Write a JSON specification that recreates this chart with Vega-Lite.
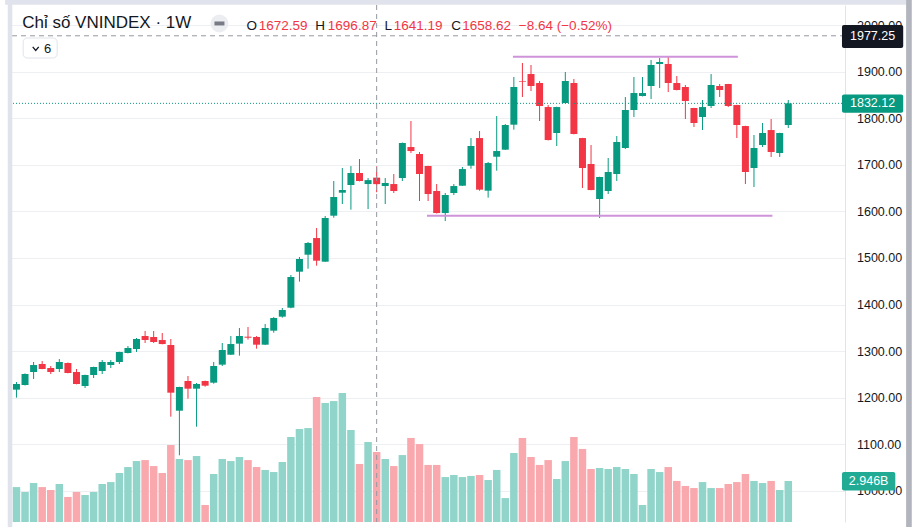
{
"$schema": "https://vega.github.io/schema/vega-lite/v6.json",
"width": 837,
"height": 517,
"autosize": {"type": "none"},
"padding": {"left": 8, "top": 5, "right": 72, "bottom": 5},
"background": "#ffffff",
"config": {"view": {"stroke": null}, "font": "Liberation Sans", "text": {"font": "Liberation Sans"}},
"datasets": {
"bars": [
{"i":0,"o":1217.1,"h":1233.5,"l":1199.9,"c":1229.2,"v":2.51},
{"i":1,"o":1227.1,"h":1252.0,"l":1226.0,"c":1250.7,"v":2.16},
{"i":2,"o":1255.0,"h":1276.5,"l":1240.0,"c":1270.0,"v":2.80},
{"i":3,"o":1272.2,"h":1278.6,"l":1261.0,"c":1261.5,"v":2.51},
{"i":4,"o":1263.6,"h":1267.9,"l":1250.7,"c":1255.0,"v":2.30},
{"i":5,"o":1261.5,"h":1282.9,"l":1255.0,"c":1276.5,"v":2.73},
{"i":6,"o":1274.3,"h":1275.5,"l":1252.2,"c":1252.9,"v":1.80},
{"i":7,"o":1255.0,"h":1261.5,"l":1228.5,"c":1229.2,"v":2.16},
{"i":8,"o":1224.9,"h":1249.3,"l":1220.6,"c":1248.6,"v":1.94},
{"i":9,"o":1248.6,"h":1266.5,"l":1242.1,"c":1265.8,"v":2.16},
{"i":10,"o":1257.2,"h":1280.8,"l":1250.7,"c":1276.5,"v":2.73},
{"i":11,"o":1270.0,"h":1280.8,"l":1263.6,"c":1276.5,"v":2.87},
{"i":12,"o":1276.5,"h":1298.5,"l":1272.2,"c":1298.0,"v":3.52},
{"i":13,"o":1295.8,"h":1310.9,"l":1295.0,"c":1306.6,"v":3.95},
{"i":14,"o":1304.4,"h":1328.0,"l":1298.0,"c":1325.9,"v":4.38},
{"i":15,"o":1332.3,"h":1343.1,"l":1317.3,"c":1323.8,"v":4.45},
{"i":16,"o":1330.2,"h":1343.1,"l":1317.3,"c":1319.5,"v":4.02},
{"i":17,"o":1323.7,"h":1338.8,"l":1314.5,"c":1315.1,"v":3.52},
{"i":18,"o":1313.0,"h":1325.9,"l":1159.0,"c":1210.6,"v":5.53},
{"i":19,"o":1171.9,"h":1223.3,"l":1076.0,"c":1222.8,"v":4.53},
{"i":20,"o":1235.7,"h":1246.4,"l":1197.7,"c":1219.2,"v":4.45},
{"i":21,"o":1219.2,"h":1231.4,"l":1137.5,"c":1229.2,"v":4.74},
{"i":22,"o":1235.7,"h":1236.5,"l":1223.5,"c":1225.6,"v":1.22},
{"i":23,"o":1232.1,"h":1276.5,"l":1229.9,"c":1267.9,"v":3.45},
{"i":24,"o":1270.8,"h":1317.3,"l":1267.9,"c":1302.3,"v":4.53},
{"i":25,"o":1292.2,"h":1332.3,"l":1291.5,"c":1315.1,"v":4.38},
{"i":26,"o":1315.9,"h":1349.5,"l":1290.1,"c":1332.3,"v":4.67},
{"i":27,"o":1330.9,"h":1351.7,"l":1324.5,"c":1328.7,"v":4.45},
{"i":28,"o":1330.2,"h":1332.3,"l":1305.1,"c":1313.7,"v":3.95},
{"i":29,"o":1313.7,"h":1358.1,"l":1313.0,"c":1349.5,"v":3.74},
{"i":30,"o":1343.8,"h":1373.1,"l":1339.5,"c":1371.0,"v":3.59},
{"i":31,"o":1373.9,"h":1392.5,"l":1371.7,"c":1388.2,"v":4.31},
{"i":32,"o":1393.2,"h":1463.4,"l":1392.0,"c":1459.1,"v":6.11},
{"i":33,"o":1470.5,"h":1502.0,"l":1449.1,"c":1497.8,"v":6.68},
{"i":34,"o":1507.0,"h":1534.3,"l":1476.9,"c":1532.1,"v":6.75},
{"i":35,"o":1542.8,"h":1564.3,"l":1483.4,"c":1494.1,"v":8.98},
{"i":36,"o":1492.0,"h":1590.1,"l":1491.5,"c":1585.8,"v":8.55},
{"i":37,"o":1590.8,"h":1665.3,"l":1586.5,"c":1630.9,"v":8.69},
{"i":38,"o":1640.2,"h":1693.2,"l":1615.9,"c":1646.0,"v":9.27},
{"i":39,"o":1656.7,"h":1697.5,"l":1603.7,"c":1682.5,"v":6.61},
{"i":40,"o":1682.5,"h":1712.5,"l":1664.5,"c":1665.3,"v":4.17},
{"i":41,"o":1658.8,"h":1671.7,"l":1605.1,"c":1667.26,"v":5.75},
{"i":42,"o":1672.59,"h":1696.87,"l":1641.19,"c":1658.62,"v":5.03},
{"i":43,"o":1654.5,"h":1671.7,"l":1615.9,"c":1661.0,"v":4.53},
{"i":44,"o":1658.8,"h":1680.3,"l":1639.5,"c":1643.8,"v":4.02},
{"i":45,"o":1671.7,"h":1748.0,"l":1665.3,"c":1746.9,"v":4.81},
{"i":46,"o":1738.3,"h":1794.2,"l":1725.4,"c":1729.7,"v":6.04},
{"i":47,"o":1723.3,"h":1727.6,"l":1622.3,"c":1680.3,"v":5.60},
{"i":48,"o":1697.5,"h":1698.0,"l":1622.3,"c":1637.3,"v":4.10},
{"i":49,"o":1643.8,"h":1658.8,"l":1595.5,"c":1596.5,"v":4.10},
{"i":50,"o":1596.5,"h":1639.5,"l":1579.3,"c":1635.2,"v":3.23},
{"i":51,"o":1639.5,"h":1658.8,"l":1635.2,"c":1654.5,"v":3.38},
{"i":52,"o":1655.2,"h":1695.4,"l":1654.5,"c":1691.0,"v":3.23},
{"i":53,"o":1698.2,"h":1757.6,"l":1691.8,"c":1740.5,"v":3.31},
{"i":54,"o":1757.6,"h":1772.7,"l":1644.5,"c":1646.7,"v":3.38},
{"i":55,"o":1644.5,"h":1706.1,"l":1629.5,"c":1703.9,"v":3.02},
{"i":56,"o":1717.5,"h":1804.9,"l":1687.5,"c":1729.7,"v":3.74},
{"i":57,"o":1732.6,"h":1787.7,"l":1732.0,"c":1785.6,"v":1.72},
{"i":58,"o":1786.3,"h":1888.7,"l":1775.6,"c":1867.2,"v":4.96},
{"i":59,"o":1880.1,"h":1918.8,"l":1845.7,"c":1878.7,"v":6.04},
{"i":60,"o":1895.1,"h":1914.5,"l":1858.6,"c":1869.4,"v":4.67},
{"i":61,"o":1875.8,"h":1880.1,"l":1794.2,"c":1826.4,"v":4.10},
{"i":62,"o":1824.2,"h":1828.5,"l":1752.5,"c":1753.3,"v":4.45},
{"i":63,"o":1768.4,"h":1825.0,"l":1740.5,"c":1824.2,"v":3.09},
{"i":64,"o":1832.8,"h":1899.4,"l":1832.0,"c":1880.1,"v":4.38},
{"i":65,"o":1875.8,"h":1884.4,"l":1765.5,"c":1766.3,"v":6.11},
{"i":66,"o":1757.6,"h":1758.0,"l":1650.2,"c":1693.2,"v":5.25},
{"i":67,"o":1701.8,"h":1742.6,"l":1645.5,"c":1645.9,"v":3.81},
{"i":68,"o":1626.6,"h":1674.5,"l":1585.8,"c":1673.9,"v":3.88},
{"i":69,"o":1643.8,"h":1714.7,"l":1637.3,"c":1684.6,"v":3.81},
{"i":70,"o":1680.3,"h":1761.9,"l":1665.3,"c":1749.1,"v":3.95},
{"i":71,"o":1736.2,"h":1845.7,"l":1734.0,"c":1817.8,"v":3.81},
{"i":72,"o":1817.8,"h":1888.7,"l":1802.8,"c":1854.3,"v":3.45},
{"i":73,"o":1847.9,"h":1888.7,"l":1847.0,"c":1854.3,"v":1.22},
{"i":74,"o":1869.4,"h":1925.2,"l":1841.4,"c":1914.5,"v":3.81},
{"i":75,"o":1916.6,"h":1929.5,"l":1865.1,"c":1920.9,"v":3.59},
{"i":76,"o":1916.6,"h":1933.8,"l":1856.5,"c":1875.8,"v":3.95},
{"i":77,"o":1875.8,"h":1890.8,"l":1860.0,"c":1860.8,"v":2.95},
{"i":78,"o":1867.2,"h":1871.5,"l":1798.5,"c":1837.1,"v":2.59},
{"i":79,"o":1822.1,"h":1822.5,"l":1781.3,"c":1789.9,"v":2.44},
{"i":80,"o":1802.8,"h":1839.3,"l":1774.8,"c":1824.2,"v":2.87},
{"i":81,"o":1826.4,"h":1895.1,"l":1822.1,"c":1871.5,"v":2.44},
{"i":82,"o":1869.4,"h":1873.7,"l":1845.7,"c":1860.8,"v":2.44},
{"i":83,"o":1873.7,"h":1874.0,"l":1824.2,"c":1826.4,"v":2.73},
{"i":84,"o":1828.5,"h":1829.0,"l":1757.6,"c":1785.6,"v":2.87},
{"i":85,"o":1783.4,"h":1784.0,"l":1658.8,"c":1684.6,"v":3.45},
{"i":86,"o":1693.2,"h":1764.1,"l":1652.4,"c":1736.2,"v":2.95},
{"i":87,"o":1742.6,"h":1789.9,"l":1738.3,"c":1768.4,"v":2.80},
{"i":88,"o":1774.8,"h":1798.5,"l":1716.8,"c":1727.6,"v":2.95},
{"i":89,"o":1725.4,"h":1768.9,"l":1716.8,"c":1768.4,"v":2.30},
{"i":90,"o":1785.6,"h":1839.3,"l":1779.1,"c":1832.12,"v":2.946}
],
"levels": [
{"start":57.89,"end":84.12,"price":1932.3},
{"start":47.87,"end":88.15,"price":1590.6}
]
},
"data": {"name": "bars"},
"resolve": {"scale": {"y": "independent"}},
"layer": [
{
"layer": [
{
"mark": {"type": "bar", "size": 7.5, "orient": "vertical"},
"encoding": {
"x": {"field": "i", "type": "quantitative", "scale": {"domain": [-0.403, 96.03], "nice": false, "zero": false},
"axis": {"values": [7,19,32,45,58,70,83], "grid": true, "gridColor": "#eeeff2", "labels": false, "ticks": false, "domain": true, "domainColor": "#d1d4dc", "domainWidth": 1.5, "title": null}},
"y": {"field": "v", "type": "quantitative", "scale": {"domain": [0, 37.15], "nice": false}, "axis": null},
"color": {"condition": {"test": "datum.c >= datum.o", "value": "#91d5ca"}, "value": "#f9a8ae"}
}
},
{
"data": {"values": [{}]},
"mark": {"type": "rect", "color": "#22ab94", "cornerRadius": 2},
"encoding": {
"x": {"datum": 96.26, "type": "quantitative", "axis": null},
"x2": {"datum": 102.48},
"y": {"datum": 3.59, "type": "quantitative", "axis": null},
"y2": {"datum": 2.26}
}
},
{
"transform": [{"filter": "datum.i == 90"}],
"mark": {"type": "text", "color": "#ffffff", "fontSize": 12.5, "align": "center", "baseline": "middle"},
"encoding": {
"x": {"datum": 99.37, "type": "quantitative", "axis": null},
"y": {"field": "v", "type": "quantitative", "axis": null},
"text": {"value": "2.946B"}
}
}
]
},
{
"layer": [
{
"mark": {"type": "rule", "strokeWidth": 1},
"encoding": {
"x": {"field": "i", "type": "quantitative", "axis": null},
"y": {"field": "l", "type": "quantitative", "scale": {"domain": [932.8, 2043.4], "nice": false, "zero": false},
"axis": {"orient": "right", "values": [1000,1100,1200,1300,1400,1500,1600,1700,1800,1900,2000], "format": ".2f", "grid": true, "gridColor": "#eeeff2", "ticks": false, "tickSize": 0, "domain": true, "domainColor": "#e0e3eb", "labelFontSize": 12.5, "labelColor": "#131722", "labelPadding": 11.5, "labelAlign": "left", "labelBaseline": "middle", "labelFont": "Liberation Sans", "labelOverlap": false, "title": null}},
"y2": {"field": "h"},
"color": {"condition": {"test": "datum.c >= datum.o", "value": "#089981"}, "value": "#f23645"}
}
},
{
"mark": {"type": "bar", "size": 7, "orient": "vertical"},
"encoding": {
"x": {"field": "i", "type": "quantitative", "axis": null},
"y": {"field": "o", "type": "quantitative", "axis": {"title": null}},
"y2": {"field": "c"},
"color": {"condition": {"test": "datum.c >= datum.o", "value": "#089981"}, "value": "#f23645"}
}
},
{
"data": {"name": "levels"},
"mark": {"type": "rule", "color": "#ce93d8", "strokeWidth": 2},
"encoding": {
"x": {"field": "start", "type": "quantitative", "axis": null},
"x2": {"field": "end"},
"y": {"field": "price", "type": "quantitative", "axis": {"title": null}}
}
},
{
"transform": [{"filter": "datum.i == 90"}],
"mark": {"type": "rule", "color": "#089981", "strokeWidth": 1, "strokeDash": [1, 2]},
"encoding": {"y": {"field": "c", "type": "quantitative", "axis": {"title": null}}}
},
{
"transform": [{"filter": "datum.i == 42"}],
"mark": {"type": "rule", "color": "#9598a1", "strokeWidth": 1, "strokeDash": [5, 4]},
"encoding": {"x": {"field": "i", "type": "quantitative", "axis": null}}
},
{
"data": {"values": [{}]},
"mark": {"type": "rule", "color": "#9598a1", "strokeWidth": 1, "strokeDash": [5, 4]},
"encoding": {"y": {"datum": 1977.25, "type": "quantitative", "axis": {"title": null}}}
},
{
"data": {"values": [{}]},
"mark": {"type": "rect", "color": "#131722", "cornerRadius": 2},
"encoding": {
"x": {"datum": 96.26, "type": "quantitative", "axis": null},
"x2": {"datum": 103.4},
"y": {"datum": 2000.4, "type": "quantitative", "axis": {"title": null}},
"y2": {"datum": 1951.0}
}
},
{
"data": {"values": [{}]},
"mark": {"type": "text", "color": "#ffffff", "fontSize": 12.5, "align": "center", "baseline": "middle"},
"encoding": {
"x": {"datum": 99.83, "type": "quantitative", "axis": null},
"y": {"datum": 1976.5, "type": "quantitative", "axis": {"title": null}},
"text": {"value": "1977.25"}
}
},
{
"data": {"values": [{}]},
"mark": {"type": "rect", "color": "#089981", "cornerRadius": 2},
"encoding": {
"x": {"datum": 96.26, "type": "quantitative", "axis": null},
"x2": {"datum": 103.4},
"y": {"datum": 1851.2, "type": "quantitative", "axis": {"title": null}},
"y2": {"datum": 1812.0}
}
},
{
"transform": [{"filter": "datum.i == 90"}],
"mark": {"type": "text", "color": "#ffffff", "fontSize": 12.5, "align": "center", "baseline": "middle"},
"encoding": {
"x": {"datum": 99.83, "type": "quantitative", "axis": null},
"y": {"field": "c", "type": "quantitative", "axis": {"title": null}},
"text": {"field": "c", "type": "quantitative", "format": ".2f"}
}
},
{
"data": {"values": [{}]},
"mark": {"type": "text", "color": "#131722", "fontSize": 17, "align": "left", "baseline": "alphabetic"},
"encoding": {
"x": {"datum": 0.668, "type": "quantitative", "axis": null},
"y": {"datum": 1993.3, "type": "quantitative", "axis": {"title": null}},
"text": {"value": "Chỉ số VNINDEX · 1W"}
}
},
{
"data": {"values": [{}]},
"mark": {"type": "point", "shape": "circle", "filled": true, "color": "#ebedf0", "opacity": 1, "size": 320},
"encoding": {
"x": {"datum": 23.67, "type": "quantitative", "axis": null},
"y": {"datum": 2003.7, "type": "quantitative", "axis": {"title": null}}
}
},
{
"data": {"values": [{}]},
"mark": {"type": "point", "shape": "M-1,-0.4L1,-0.4L1,0.4L-1,0.4Z", "filled": true, "color": "#787b86", "opacity": 1, "size": 100},
"encoding": {
"x": {"datum": 23.67, "type": "quantitative", "axis": null},
"y": {"datum": 2003.7, "type": "quantitative", "axis": {"title": null}}
}
},
{
"data": {"values": [{}]},
"mark": {"type": "text", "color": "#131722", "fontSize": 13.5, "align": "left", "baseline": "alphabetic"},
"encoding": {"x": {"datum": 26.82, "type": "quantitative", "axis": null}, "y": {"datum": 1990.3, "type": "quantitative", "axis": {"title": null}}, "text": {"value": "O"}}
},
{
"data": {"values": [{}]},
"mark": {"type": "text", "color": "#131722", "fontSize": 13.5, "align": "left", "baseline": "alphabetic"},
"encoding": {"x": {"datum": 34.85, "type": "quantitative", "axis": null}, "y": {"datum": 1990.3, "type": "quantitative", "axis": {"title": null}}, "text": {"value": "H"}}
},
{
"data": {"values": [{}]},
"mark": {"type": "text", "color": "#131722", "fontSize": 13.5, "align": "left", "baseline": "alphabetic"},
"encoding": {"x": {"datum": 42.91, "type": "quantitative", "axis": null}, "y": {"datum": 1990.3, "type": "quantitative", "axis": {"title": null}}, "text": {"value": "L"}}
},
{
"data": {"values": [{}]},
"mark": {"type": "text", "color": "#131722", "fontSize": 13.5, "align": "left", "baseline": "alphabetic"},
"encoding": {"x": {"datum": 50.71, "type": "quantitative", "axis": null}, "y": {"datum": 1990.3, "type": "quantitative", "axis": {"title": null}}, "text": {"value": "C"}}
},
{
"transform": [{"filter": "datum.i == 42"}],
"mark": {"type": "text", "color": "#f23645", "fontSize": 13.5, "align": "left", "baseline": "alphabetic"},
"encoding": {"x": {"datum": 28.25, "type": "quantitative", "axis": null}, "y": {"datum": 1990.3, "type": "quantitative", "axis": {"title": null}}, "text": {"field": "o", "type": "quantitative", "format": ".2f"}}
},
{
"transform": [{"filter": "datum.i == 42"}],
"mark": {"type": "text", "color": "#f23645", "fontSize": 13.5, "align": "left", "baseline": "alphabetic"},
"encoding": {"x": {"datum": 36.31, "type": "quantitative", "axis": null}, "y": {"datum": 1990.3, "type": "quantitative", "axis": {"title": null}}, "text": {"field": "h", "type": "quantitative", "format": ".2f"}}
},
{
"transform": [{"filter": "datum.i == 42"}],
"mark": {"type": "text", "color": "#f23645", "fontSize": 13.5, "align": "left", "baseline": "alphabetic"},
"encoding": {"x": {"datum": 43.99, "type": "quantitative", "axis": null}, "y": {"datum": 1990.3, "type": "quantitative", "axis": {"title": null}}, "text": {"field": "l", "type": "quantitative", "format": ".2f"}}
},
{
"transform": [{"filter": "datum.i == 42"}],
"mark": {"type": "text", "color": "#f23645", "fontSize": 13.5, "align": "left", "baseline": "alphabetic"},
"encoding": {"x": {"datum": 51.98, "type": "quantitative", "axis": null}, "y": {"datum": 1990.3, "type": "quantitative", "axis": {"title": null}}, "text": {"field": "c", "type": "quantitative", "format": ".2f"}}
},
{
"data": {"values": [{}]},
"mark": {"type": "text", "color": "#f23645", "fontSize": 13.5, "align": "left", "baseline": "alphabetic"},
"encoding": {"x": {"datum": 58.58, "type": "quantitative", "axis": null}, "y": {"datum": 1990.3, "type": "quantitative", "axis": {"title": null}}, "text": {"value": "−8.64 (−0.52%)"}}
},
{
"data": {"values": [{}]},
"mark": {"type": "rect", "fill": "#ffffff", "stroke": "#e0e3eb", "strokeWidth": 1, "cornerRadius": 4},
"encoding": {
"x": {"datum": 0.784, "type": "quantitative", "axis": null},
"x2": {"datum": 4.747},
"y": {"datum": 1972.5, "type": "quantitative", "axis": {"title": null}},
"y2": {"datum": 1929.5}
}
},
{
"data": {"values": [{}]},
"mark": {"type": "point", "shape": "M-1,-0.6L0,0.6L1,-0.6", "filled": false, "stroke": "#131722", "strokeWidth": 1.3, "opacity": 1, "size": 36},
"encoding": {
"x": {"datum": 2.247, "type": "quantitative", "axis": null},
"y": {"datum": 1949.5, "type": "quantitative", "axis": {"title": null}}
}
},
{
"data": {"values": [{}]},
"mark": {"type": "text", "color": "#131722", "fontSize": 13, "align": "left", "baseline": "alphabetic"},
"encoding": {"x": {"datum": 3.203, "type": "quantitative", "axis": null}, "y": {"datum": 1939.6, "type": "quantitative", "axis": {"title": null}}, "text": {"value": "6"}}
},
{
"data": {"values": [{}]},
"mark": {"type": "rect", "color": "#e0e3eb"},
"encoding": {
"x": {"datum": -1.325, "type": "quantitative", "axis": null},
"x2": {"datum": 103.74},
"y": {"datum": 2054.1, "type": "quantitative", "axis": {"title": null}},
"y2": {"datum": 2044.0}
}
},
{
"data": {"values": [{}]},
"mark": {"type": "rect", "color": "#e0e3eb"},
"encoding": {
"x": {"datum": -1.014, "type": "quantitative", "axis": null},
"x2": {"datum": -0.484},
"y": {"datum": 2054.1, "type": "quantitative", "axis": {"title": null}},
"y2": {"datum": 922.0}
}
},
{
"data": {"values": [{}]},
"mark": {"type": "rect", "color": "#b2b5be"},
"encoding": {
"x": {"datum": 103.74, "type": "quantitative", "axis": null},
"x2": {"datum": 104.4},
"y": {"datum": 2054.1, "type": "quantitative", "axis": {"title": null}},
"y2": {"datum": 922.0}
}
}
]
}
]
}
